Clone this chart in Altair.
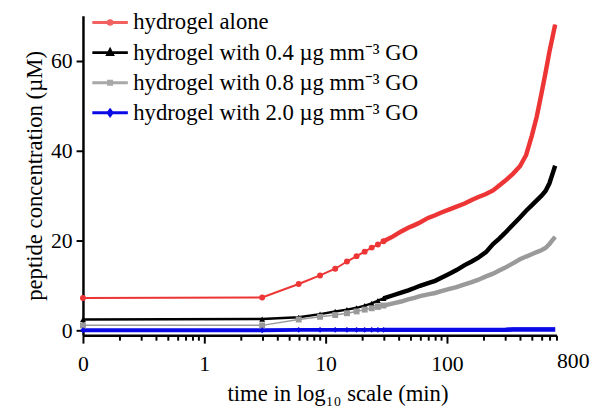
import altair as alt
import pandas as pd

# ---- data ----
times = [0, 3, 6, 9, 12, 15, 18, 21, 24, 27, 30, 36, 42, 48, 54, 60, 70, 80, 90, 105,
         120, 140, 160, 180, 210, 240, 270, 300, 350, 400, 450, 500, 550, 600, 650, 700, 750, 780]
red = [7.2, 7.3, 10.3, 12.2, 13.7, 15.3, 16.5, 17.5, 18.4, 19.1, 19.8, 20.9, 22.0, 22.8, 23.4,
       24.0, 25.0, 25.6, 26.2, 26.9, 27.5, 28.2, 29.0, 29.6, 30.3, 31.1, 32.2, 33.2, 34.8, 36.5,
       39.0, 43.2, 47.5, 52.5, 57.3, 62.0, 65.8, 68.0]
black = [2.4, 2.5, 2.9, 3.6, 4.2, 4.6, 5.0, 5.5, 6.0, 6.6, 7.1, 7.8, 8.4, 8.9, 9.4, 9.9, 10.5,
         11.0, 11.7, 12.6, 13.4, 14.5, 15.3, 16.1, 17.4, 19.2, 20.4, 21.6, 23.5, 25.1, 26.6,
         27.8, 28.9, 29.9, 31.0, 32.7, 35.2, 36.6]
gray = [1.1, 1.1, 2.4, 3.0, 3.4, 3.8, 4.2, 4.6, 4.9, 5.2, 5.5, 6.0, 6.4, 6.9, 7.2, 7.6, 8.0,
        8.3, 8.7, 9.2, 9.6, 10.2, 10.7, 11.2, 12.0, 12.6, 13.3, 13.9, 14.9, 15.8, 16.4, 16.9,
        17.4, 17.8, 18.3, 19.2, 20.2, 20.8]
blue = [0.0, 0.0, 0.1, 0.1, 0.1, 0.1, 0.1, 0.1, 0.1, 0.1, 0.1, 0.1, 0.1, 0.1, 0.1, 0.1, 0.1,
        0.1, 0.1, 0.1, 0.1, 0.1, 0.1, 0.1, 0.1, 0.1, 0.1, 0.1, 0.2, 0.2, 0.2, 0.2, 0.2, 0.2,
        0.2, 0.2, 0.2, 0.2]

series = ["hydrogel alone",
          "hydrogel with 0.4 µg mm⁻³ GO",
          "hydrogel with 0.8 µg mm⁻³ GO",
          "hydrogel with 2.0 µg mm⁻³ GO"]
colors = ["#ee3535", "#000000", "#9a9a9a", "#0a0ae6"]
legend_colors = ["#f26060", "#000000", "#a8a8a8", "#0a0ae6"]
shapes = ["circle", "triangle-up", "square", "diamond"]
legend_shapes = [
    "M-2,0H2M-0.2,0A0.2,0.2 0 1,0 0.2,0A0.2,0.2 0 1,0 -0.2,0Z",
    "M-2,0H2M0,-0.3L0.26,0.2L-0.26,0.2Z",
    "M-2,0H2M-0.17,-0.17H0.17V0.17H-0.17Z",
    "M-2,0H2M0,-0.3L0.22,0L0,0.3L-0.22,0Z",
]
widths = [2, 2.5, 1.5, 4]

x_ticks = [0.1, 0.2, 0.3, 0.4, 0.5, 0.6, 0.7, 0.8, 0.9,
           1, 2, 3, 4, 5, 6, 7, 8, 9,
           10, 20, 30, 40, 50, 60, 70, 80, 90,
           100, 200, 300, 400, 500, 600, 700, 800]
y_ticks = [0, 20, 40, 60]

rows = []
for name, vals in zip(series, [red, black, gray, blue]):
    for t, v in zip(times, vals):
        rows.append({"series": name, "time": t, "conc": v})
df = pd.DataFrame(rows)

FONT = "Liberation Serif"

base = alt.Chart(df).transform_calculate(
    tp="max(datum.time, 0.1)"
)

x = alt.X("tp:Q",
          scale=alt.Scale(type="log", domain=[0.1, 800], nice=False),
          axis=alt.Axis(
              title="time in log₁₀ scale (min)",
              values=x_ticks,
              labelExpr="datum.value == 0.1 ? '0' : (indexof([1, 10, 100, 800], datum.value) >= 0 ? datum.label : '')",
              labelOverlap=False,
              labelFlush=False,
              tickSize={"condition": {"test": "indexof([0.1, 1, 10, 100], datum.value) >= 0", "value": 8}, "value": 5},
              labelAlign={"condition": {"test": "datum.value == 800", "value": "left"}, "value": "center"},
              labelPadding=10.5,
              titlePadding=9,
              titleX=258,
              titleAlign="center",
              format="d",
          ))
y = alt.Y("conc:Q",
          scale=alt.Scale(domain=[-1.1, 70], nice=False, zero=False),
          axis=alt.Axis(title="peptide concentration (µM)", values=y_ticks,
                        tickSize=7, labelPadding=4, titlePadding=4))

color = alt.Color("series:N", scale=alt.Scale(domain=series, range=colors), legend=None)

thin = base.mark_line().encode(
    x=x, y=y, color=color,
    strokeWidth=alt.StrokeWidth("series:N",
                                scale=alt.Scale(type="ordinal", domain=series, range=widths),
                                legend=None),
)

thick = base.transform_filter("datum.time >= 30").mark_line(strokeWidth=4.5).encode(
    x=x, y=y, color=color,
)

pts = base.transform_filter("datum.time <= 30").mark_point(filled=True, opacity=1, size=36).encode(
    x=x, y=y, color=color,
    shape=alt.Shape("series:N", scale=alt.Scale(domain=series, range=shapes), legend=None),
)

leg = alt.Legend(
    title=None, orient="none", legendX=16, legendY=-4.5,
    symbolSize=324, symbolStrokeWidth=3, labelFontSize=23, labelFont=FONT,
    labelColor="black", labelOffset=12, rowPadding=6.5, padding=0, labelLimit=0,
)

legend_layer = base.transform_filter("datum.time < 0").mark_point(filled=False, opacity=1).encode(
    x=x, y=y,
    color=alt.Color("series:N", scale=alt.Scale(domain=series, range=legend_colors), legend=leg),
    shape=alt.Shape("series:N", scale=alt.Scale(domain=series, range=legend_shapes), legend=leg),
)

chart = alt.layer(thin, thick, pts, legend_layer).resolve_scale(
    shape="independent", color="independent"
).properties(
    width=480, height=324,
    autosize=alt.AutoSizeParams(type="none"),
    padding={"left": 76, "top": 5, "right": 35, "bottom": 70},
).configure_view(stroke=None).configure_axis(
    grid=False,
    domainColor="black", domainWidth=2.5,
    tickColor="black", tickWidth=2,
    labelColor="black", titleColor="black",
    labelFont=FONT, titleFont=FONT,
    labelFontSize=22, titleFontSize=23, titleFontWeight="normal",
).configure_legend(labelFont=FONT)

chart.save("out.html", embed_options={"renderer": "svg", "actions": False})
